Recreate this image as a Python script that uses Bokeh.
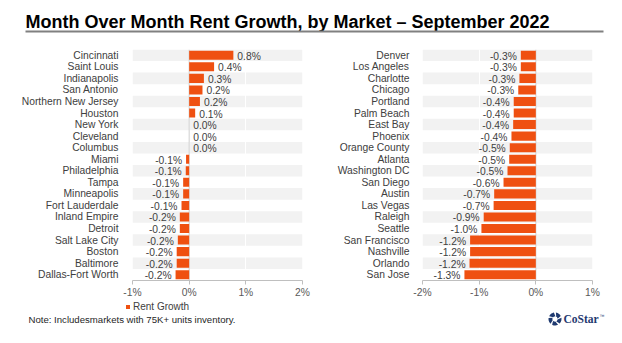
import numpy as np
from bokeh.plotting import figure
from bokeh.layouts import column, row
from bokeh.models import (FactorRange, FixedTicker, PrintfTickFormatter, Span, Label,
                          Legend, LegendItem, BoxAnnotation, PolyAnnotation,
                          ColumnDataSource, Range1d)
from bokeh.embed import file_html
from bokeh.resources import INLINE
from bokeh.core.properties import value

FONT = "Liberation Sans"
ORANGE = "#ef5011"
STRIPE = "#f2f2f2"
TEXT = "#404040"
NAVY = "#1f3a70"

title_text = "Month Over Month Rent Growth, by Market \u2013 September  2022"
note_text = "Note: Includesmarkets with 75K+ units inventory."
series_name = "Rent Growth"

left_markets = ["Cincinnati", "Saint Louis", "Indianapolis", "San Antonio",
                "Northern New Jersey", "Houston", "New York", "Cleveland", "Columbus",
                "Miami", "Philadelphia", "Tampa", "Minneapolis", "Fort Lauderdale",
                "Inland Empire", "Detroit", "Salt Lake City", "Boston", "Baltimore",
                "Dallas-Fort Worth"]
left_growth = [0.78, 0.44, 0.26, 0.235, 0.19, 0.106, 0.0, 0.0, 0.0,
               -0.055, -0.06, -0.106, -0.106, -0.135, -0.165, -0.165, -0.2, -0.22,
               -0.22, -0.24]

right_markets = ["Denver", "Los Angeles", "Charlotte", "Chicago", "Portland",
                 "Palm Beach", "East Bay", "Phoenix", "Orange County", "Atlanta",
                 "Washington DC", "San Diego", "Austin", "Las Vegas", "Raleigh",
                 "Seattle", "San Francisco", "Nashville", "Orlando", "San Jose"]
right_growth = [-0.265, -0.265, -0.29, -0.31, -0.39, -0.39, -0.40, -0.43, -0.46,
                -0.47, -0.50, -0.57, -0.735, -0.745, -0.92, -0.96, -1.16, -1.16,
                -1.17, -1.26]

left_ticks = [-1, 0, 1, 2]
right_ticks = [-2, -1, 0, 1]


def panel(markets, growth, ticks, width, bl, br, standoff):
    p = figure(width=width, height=255,
               y_range=FactorRange(factors=markets[::-1]),
               x_range=Range1d(ticks[0], ticks[-1]),
               output_backend="svg", toolbar_location=None,
               min_border_left=bl, min_border_right=br,
               min_border_top=4, min_border_bottom=20)
    p.outline_line_color = None
    stripes = ColumnDataSource(dict(y=markets[::2]))
    p.hbar(y="y", left=ticks[0], right=ticks[-1], height=1, source=stripes,
           fill_color=STRIPE, line_color=None, level="image")
    p.add_layout(Span(location=0, dimension="height", line_color="#cfcfcf",
                      line_width=1, level="underlay"))
    src = ColumnDataSource(dict(y=markets, v=growth))
    p.hbar(y="y", left=0, right="v", height=0.78, source=src,
           fill_color=ORANGE, line_color=None)
    pos = [(m, g) for m, g in zip(markets, growth) if g >= 0]
    neg = [(m, g) for m, g in zip(markets, growth) if g < 0]
    if pos:
        ps = ColumnDataSource(dict(y=[m for m, _ in pos], x=[g for _, g in pos],
                                   t=[f"{g:.1f}%" for _, g in pos]))
        p.text(x="x", y="y", text="t", source=ps, x_offset=4, y_offset=1,
               text_align="left", text_baseline="middle",
               text_font=value(FONT), text_font_size="10.3px", text_color=TEXT)
    if neg:
        ns = ColumnDataSource(dict(y=[m for m, _ in neg], x=[g for _, g in neg],
                                   t=[f"{g:.1f}%" for _, g in neg]))
        p.text(x="x", y="y", text="t", source=ns, x_offset=-4, y_offset=1,
               text_align="right", text_baseline="middle",
               text_font=value(FONT), text_font_size="10.3px", text_color=TEXT)
    p.xaxis.ticker = FixedTicker(ticks=ticks)
    p.xaxis.formatter = PrintfTickFormatter(format="%d%%")
    p.xaxis.axis_line_color = "#bfbfbf"
    p.xaxis.major_tick_line_color = "#bfbfbf"
    p.xaxis.major_tick_out = 4
    p.xaxis.major_tick_in = 0
    p.xaxis.minor_tick_line_color = None
    p.xaxis.major_label_standoff = 2
    p.xaxis.major_label_text_font = FONT
    p.xaxis.major_label_text_font_size = "10.3px"
    p.xaxis.major_label_text_color = "#595959"
    p.yaxis.axis_line_color = None
    p.yaxis.major_tick_line_color = None
    p.yaxis.minor_tick_line_color = None
    p.yaxis.major_tick_out = 0
    p.yaxis.major_tick_in = 0
    p.yaxis.major_label_standoff = standoff
    p.yaxis.major_label_text_font = FONT
    p.yaxis.major_label_text_font_size = "10.3px"
    p.yaxis.major_label_text_color = TEXT
    p.ygrid.visible = False
    p.xgrid.ticker = FixedTicker(ticks=ticks)
    p.xgrid.grid_line_color = "white"
    p.xgrid.grid_line_width = 1
    return p


left = panel(left_markets, left_growth, left_ticks, 311, 132, 9, 14)
right = panel(right_markets, right_growth, right_ticks, 311, 111, 30, 13)

# footer: legend, note and logo
f = figure(width=622, height=43, x_range=Range1d(0, 622), y_range=Range1d(0, 43),
           x_axis_type=None, y_axis_type=None, output_backend="svg",
           toolbar_location=None, min_border=0)
f.outline_line_color = None
# legend key renderer (its only bar lies outside the footer's visible range)
key = f.hbar(y=[-100], left=[0], right=[1], height=1, fill_color=ORANGE,
             line_color=None)
legend = Legend(items=[LegendItem(label=series_name, renderers=[key])],
                location=(125, 31), glyph_width=5, glyph_height=5,
                label_text_font=FONT, label_text_font_size="10px",
                label_text_color=TEXT, label_standoff=3, label_height=10,
                padding=0, margin=0, spacing=0, border_line_color=None,
                background_fill_alpha=0)
f.add_layout(legend)
f.add_layout(Label(x=28, y=24, x_units="screen", y_units="screen",
                   text=note_text, text_font=FONT, text_font_size="9.6px",
                   text_color="#262626", text_baseline="middle"))
cx, cy = 554.5, 24.5
for k in range(5):
    a0 = np.deg2rad(100 + k * 72)
    th = np.linspace(a0, a0 + np.deg2rad(54), 8)
    xs = list(cx + 6.5 * np.cos(th)) + list(cx + 2.6 * np.cos(th[::-1] - 0.35))
    ys = list(cy + 6.5 * np.sin(th)) + list(cy + 2.6 * np.sin(th[::-1] - 0.35))
    f.add_layout(PolyAnnotation(xs=xs, ys=ys, xs_units="screen", ys_units="screen",
                                fill_color=NAVY, fill_alpha=1, line_color=None))
f.add_layout(Label(x=563, y=25, x_units="screen", y_units="screen",
                   text="CoStar", text_font="Liberation Serif",
                   text_font_style="bold", text_font_size="11.5px",
                   text_color=NAVY, text_baseline="middle"))
f.add_layout(Label(x=599, y=28, x_units="screen", y_units="screen",
                   text="\u2122", text_font=FONT, text_font_size="5px",
                   text_color=NAVY, text_baseline="middle"))

# title strip
t = figure(width=622, height=45, x_range=Range1d(0, 622), y_range=Range1d(0, 45),
           x_axis_type=None, y_axis_type=None, output_backend="svg",
           toolbar_location=None, min_border=0)
t.outline_line_color = None
t.add_layout(Label(x=25, y=23.5, x_units="screen", y_units="screen", text=title_text,
                   text_font=FONT, text_font_style="bold", text_font_size="18px",
                   text_color="black", text_baseline="alphabetic"))
t.add_layout(BoxAnnotation(left=25, right=603, bottom=13, top=15,
                           left_units="screen", right_units="screen",
                           bottom_units="screen", top_units="screen",
                           fill_color="#808080", fill_alpha=1, line_color=None))

layout = column(t, row(left, right), f)
open("out.html", "w").write(file_html(layout, INLINE))
